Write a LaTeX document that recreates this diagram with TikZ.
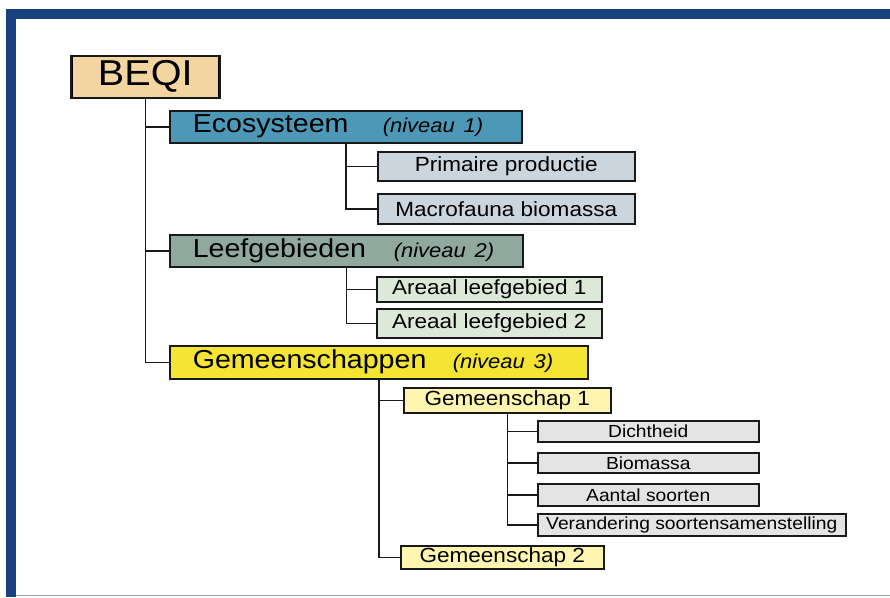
\documentclass[tikz,border=0pt]{standalone}
\usepackage{fontspec}
\setmainfont{Liberation Sans}[FakeStretch=1.1]
\usepackage{tikz}
\usetikzlibrary{positioning}
\definecolor{frameblue}{HTML}{17427F}
\definecolor{framelight}{HTML}{8EA9CC}
\definecolor{beqifill}{HTML}{F3D5A2}
\definecolor{ecofill}{HTML}{4C98B6}
\definecolor{ecosub}{HTML}{CBD5DD}
\definecolor{leeffill}{HTML}{90A99E}
\definecolor{leefsub}{HTML}{DCE9D8}
\definecolor{gemfill}{HTML}{F4E433}
\definecolor{gemsub}{HTML}{FEF6B0}
\definecolor{metfill}{HTML}{E4E4E4}
\tikzset{
    box/.style={draw=black!90, line width=1.5pt, anchor=north west, inner sep=0pt, align=center},
    lvlbox/.style={box, inner xsep=23pt, align=left, font=\fontsize{26}{30}\selectfont},
    subbox/.style={box, font=\fontsize{20.5}{24}\selectfont},
    metbox/.style={box, fill=metfill, minimum width=221pt, font=\fontsize{17.5}{20}\selectfont},
    link/.style={line width=1.5pt, black!90},
}
\newcommand{\niv}[1]{{\fontsize{20}{24}\selectfont\itshape (niveau #1)}}

\begin{document}
\begin{tikzpicture}[x=1pt, y=-1pt]
    \useasboundingbox (0,0) rectangle (890,597);
    % frame
    \fill[frameblue] (6,9) rectangle (890,19);
    \fill[frameblue] (6,9) rectangle (16,597);
    \draw[framelight, line width=1pt] (16,595.5) -- (890,595.5);

    % top
    \node[box, fill=beqifill, minimum width=149pt, minimum height=42pt, font=\fontsize{36}{42}\selectfont] (beqi) at (70,55) {BEQI};
    \draw[line width=0.9pt] ([xshift=2.5pt]beqi.north west) -- ([xshift=2.5pt]beqi.south west);
    \draw[line width=0.9pt] ([xshift=-2.5pt]beqi.north east) -- ([xshift=-2.5pt]beqi.south east);

    % niveau 1
    \node[lvlbox, fill=ecofill, text width=306pt, minimum height=32pt] (eco) at (169,110) {\makebox[190pt][l]{Ecosysteem}\niv{1}};
    \node[subbox, fill=ecosub, minimum width=257pt, minimum height=29pt] (prim) at (377,151) {Primaire productie};
    \node[subbox, fill=ecosub, minimum width=257pt, minimum height=30pt] (macro) at (377,193) {Macrofauna biomassa};

    % niveau 2
    \node[lvlbox, fill=leeffill, text width=307pt, minimum height=32pt] (leef) at (169,234) {\makebox[201pt][l]{Leefgebieden}\niv{2}};
    \node[subbox, fill=leefsub, minimum width=225pt, minimum height=25pt] (areaal1) at (376,276) {Areaal leefgebied 1};
    \node[subbox, fill=leefsub, minimum width=225pt, minimum height=29pt] (areaal2) at (376,308) {Areaal leefgebied 2};

    % niveau 3
    \node[lvlbox, fill=gemfill, text width=372pt, minimum height=33pt] (gem) at (169,345) {\makebox[260pt][l]{Gemeenschappen}\niv{3}};
    \node[subbox, fill=gemsub, minimum width=207pt, minimum height=25pt] (gem1) at (403,387) {Gemeenschap 1};
    \node[metbox, minimum height=21pt] (dicht) at (537,420) {Dichtheid};
    \node[metbox, minimum height=20pt] (bio) at (537,452) {Biomassa};
    \node[metbox, minimum height=22pt] (aantal) at (537,483) {Aantal soorten};
    \node[metbox, minimum width=308pt, minimum height=22pt] (verand) at (537,513) {Verandering soortensamenstelling};
    \node[subbox, fill=gemsub, minimum width=203pt, minimum height=23pt] (gem2) at (400,545) {Gemeenschap 2};

    % connectors
    \foreach \child in {eco, leef, gem} \draw[link] (beqi.south) |- (\child.west);
    \foreach \child in {prim, macro} \draw[link] (eco.south) |- (\child.west);
    \foreach \child in {areaal1, areaal2} \draw[link] (leef.south) |- (\child.west);
    \foreach \child in {gem1, gem2} \draw[link] (gem.south) |- (\child.west);
    \foreach \child in {dicht, bio, aantal, verand} \draw[link] (gem1.south) |- (\child.west);
\end{tikzpicture}
\end{document}
